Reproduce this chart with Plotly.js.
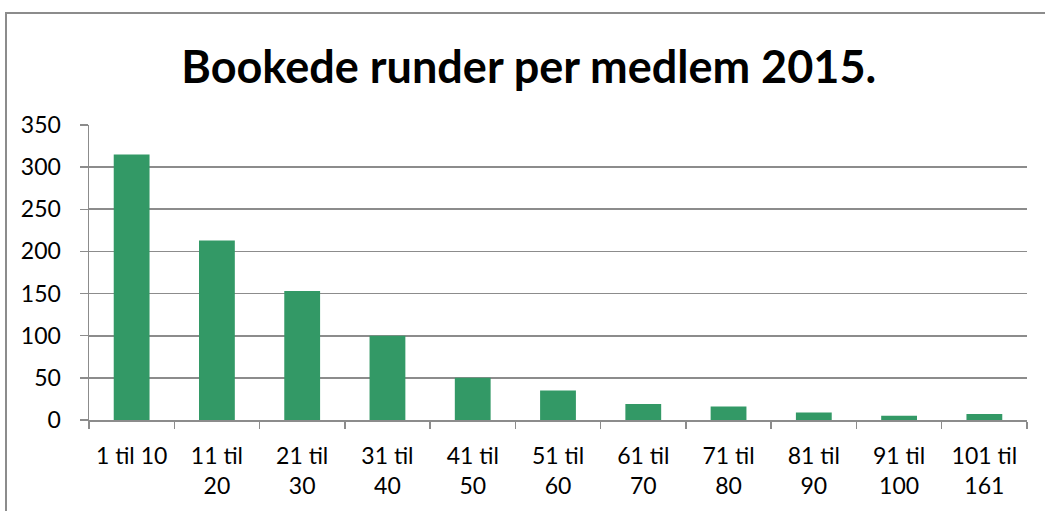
<!DOCTYPE html>
<html>
<head>
<meta charset="utf-8">
<script src="https://cdn.plot.ly/plotly-3.0.1.min.js"></script>
<style>
  html, body { margin: 0; padding: 0; background: #fff; overflow: hidden; }
  #chart { position: absolute; left: 0; top: 0; width: 1045px; height: 511px; }
  #frame { position: absolute; left: 5px; top: 12px; width: 1100px; height: 600px;
           border: 2px solid #8c8c8c; box-sizing: border-box; pointer-events: none; }
</style>
</head>
<body>
<div id="chart"></div>
<div id="frame"></div>
<script>
const categories = ["1 til 10", "11 til 20", "21 til 30", "31 til 40", "41 til 50", "51 til 60",
                    "61 til 70", "71 til 80", "81 til 90", "91 til 100", "101 til 161"];
const tickLabels = ["1 til 10", "11 til<br>20", "21 til<br>30", "31 til<br>40", "41 til<br>50", "51 til<br>60",
                    "61 til<br>70", "71 til<br>80", "81 til<br>90", "91 til<br>100", "101 til<br>161"];
const values = [315, 213, 153, 100, 50, 35, 19, 16, 9, 5, 7];
const yTicks = [0, 50, 100, 150, 200, 250, 300, 350];

const font = "Lato, 'Open Sans', sans-serif";
const axisGrey = "#8c8c8c";

Plotly.newPlot("chart", [{
  type: "bar",
  x: categories,
  y: values,
  marker: { color: "#339966", line: { width: 0 } },
  hoverinfo: "x+y"
}], {
  width: 1045, height: 511,
  margin: { l: 89, r: 18, t: 125, b: 91 },
  paper_bgcolor: "#ffffff",
  plot_bgcolor: "#ffffff",
  bargap: 0.58,
  showlegend: false,
  title: {
    text: "<b>Bookede runder per medlem 2015.</b>",
    font: { family: font, size: 45, color: "#000000" },
    x: 0.506, xanchor: "center",
    y: 0.868, yanchor: "middle"
  },
  xaxis: {
    type: "category",
    tickmode: "array",
    tickvals: categories,
    ticktext: tickLabels,
    tickson: "boundaries",
    ticks: "outside", ticklen: 7, tickwidth: 1.5, tickcolor: axisGrey,
    showline: true, linecolor: axisGrey, linewidth: 1.5,
    showgrid: false,
    tickangle: 0,
    ticklabelstandoff: 15,
    tickfont: { family: font, size: 23, color: "#000000" },
    fixedrange: true
  },
  yaxis: {
    range: [0, 350],
    tickmode: "array",
    tickvals: yTicks,
    ticktext: yTicks.map(String),
    ticks: "outside", ticklen: 8, tickwidth: 1.5, tickcolor: axisGrey,
    showline: true, linecolor: axisGrey, linewidth: 1.5,
    showgrid: true, gridcolor: axisGrey, gridwidth: 1.6,
    zeroline: false,
    ticklabelstandoff: 14,
    tickfont: { family: font, size: 23, color: "#000000" },
    fixedrange: true
  }
}, { displayModeBar: false, staticPlot: true });
</script>
</body>
</html>
